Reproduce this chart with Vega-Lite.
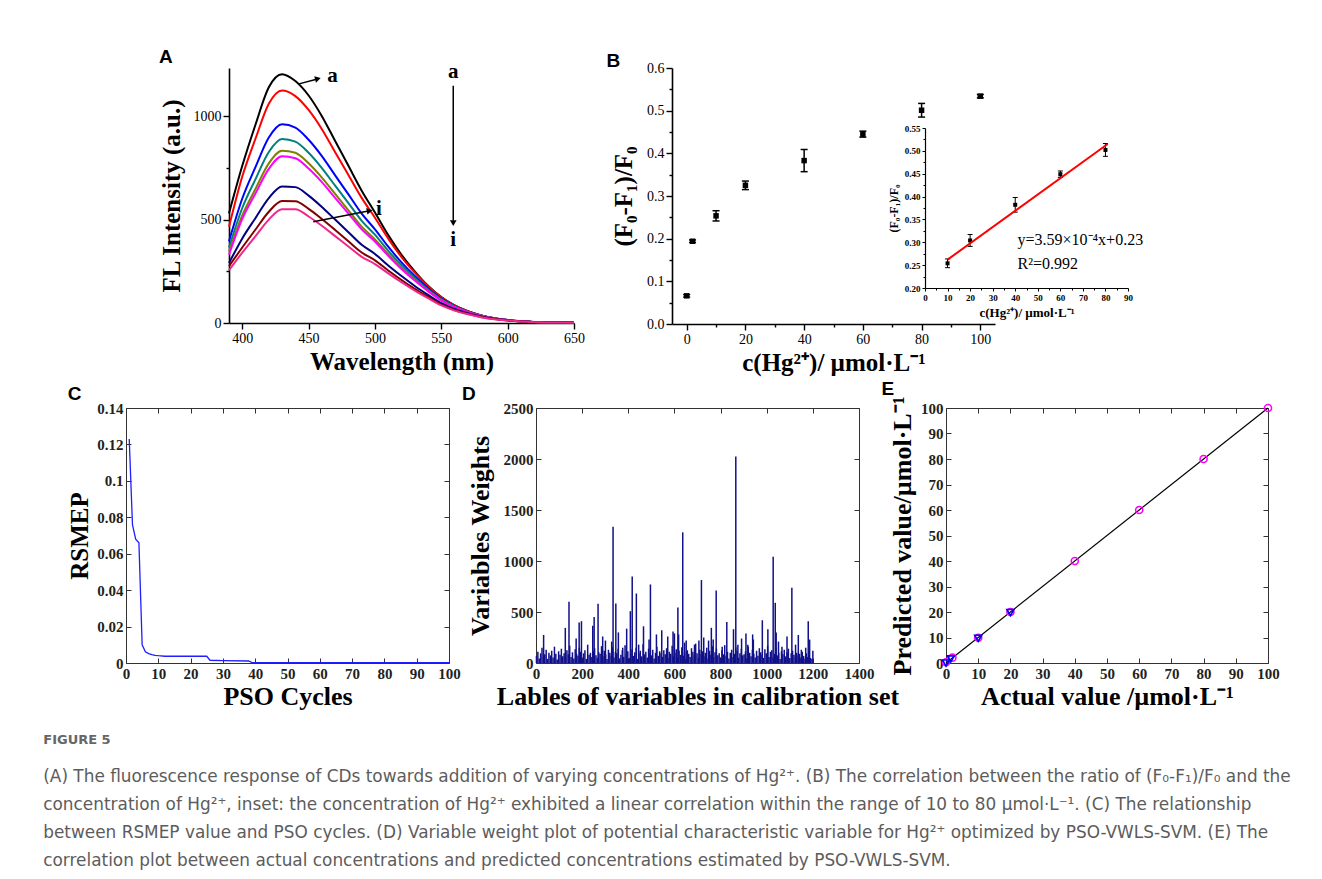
{
  "$schema": "https://vega.github.io/schema/vega-lite/v6.json",
  "padding": {"left": 43, "top": 47, "right": 5, "bottom": 5},
  "background": "white",
  "config": {
    "view": {"stroke": null},
    "axis": {"grid": false, "labelFlush": false, "labelOverlap": false, "labelFont": "Liberation Serif", "titleFont": "Liberation Serif", "domainColor": "#000", "tickColor": "#000", "labelColor": "#000", "titleColor": "#000", "titleFontWeight": "bold"},
    "title": {"font": "Liberation Sans", "fontSize": 19, "fontWeight": "bold", "anchor": "start", "frame": "bounds", "color": "#000"}
  },
  "title": {
    "text": "FIGURE 5",
    "subtitle": [
      "(A) The fluorescence response of CDs towards addition of varying concentrations of Hg²⁺. (B) The correlation between the ratio of (F₀-F₁)/F₀ and the",
      "concentration of Hg²⁺, inset: the concentration of Hg²⁺ exhibited a linear correlation within the range of 10 to 80 µmol·L⁻¹. (C) The relationship",
      "between RSMEP value and PSO cycles. (D) Variable weight plot of potential characteristic variable for Hg²⁺ optimized by PSO-VWLS-SVM. (E) The",
      "correlation plot between actual concentrations and predicted concentrations estimated by PSO-VWLS-SVM."
    ],
    "orient": "bottom", "anchor": "start", "frame": "bounds", "dx": -24, "offset": 24,
    "font": "DejaVu Sans", "fontSize": 13, "fontWeight": "bold", "color": "#666666",
    "subtitleFont": "DejaVu Sans", "subtitleFontSize": 16.9, "subtitleColor": "#5c5c5c", "subtitleLineHeight": 28, "subtitlePadding": 22
  },
  "spacing": 4,
  "align": "none",
  "vconcat": [
    {
      "spacing": 98,
      "align": "none",
      "bounds": "flush",
      "hconcat": [
        {"width": 5, "height": 10, "data": {"values": []}, "mark": "point"},
        {
          "width": 345, "height": 255,
          "title": {"text": "A", "offset": -6},
          "layer": [
            {
              "data": {"values": [
                {"w":390,"a":530,"b":465,"c":395,"d":365,"e":345,"f":330,"g":290,"h":275,"i":255},
                {"w":400,"a":760,"b":708,"c":602,"d":556,"e":520,"f":503,"g":409,"h":365,"i":340},
                {"w":410,"a":960,"b":892,"c":755,"d":696,"e":649,"f":627,"g":508,"h":452,"i":420},
                {"w":420,"a":1140,"b":1060,"c":897,"d":827,"e":772,"f":745,"g":604,"h":538,"i":500},
                {"w":430,"a":1203,"b":1124,"c":961,"d":890,"e":833,"f":806,"g":660,"h":590,"i":550},
                {"w":440,"a":1170,"b":1097,"c":945,"d":877,"e":823,"f":797,"g":657,"h":589,"i":550},
                {"w":450,"a":1100,"b":1030,"c":886,"d":823,"e":772,"f":747,"g":616,"h":552,"i":515},
                {"w":460,"a":1000,"b":937,"c":807,"d":749,"e":703,"f":681,"g":561,"h":503,"i":470},
                {"w":470,"a":880,"b":826,"c":714,"d":664,"e":624,"f":605,"g":500,"h":450,"i":420},
                {"w":480,"a":760,"b":716,"c":622,"d":580,"e":545,"f":529,"g":439,"h":395,"i":370},
                {"w":490,"a":640,"b":605,"c":529,"d":494,"e":466,"f":453,"g":378,"h":341,"i":320},
                {"w":500,"a":534,"b":509,"c":453,"d":427,"e":404,"f":394,"g":334,"h":303,"i":285},
                {"w":510,"a":425,"b":408,"c":369,"d":349,"e":333,"f":325,"g":278,"h":254,"i":240},
                {"w":520,"a":330,"b":319,"c":293,"d":279,"e":267,"f":261,"g":227,"h":208,"i":197},
                {"w":530,"a":250,"b":244,"c":227,"d":218,"e":209,"f":205,"g":179,"h":165,"i":157},
                {"w":540,"a":180,"b":178,"c":168,"d":162,"e":157,"f":154,"g":136,"h":126,"i":120},
                {"w":550,"a":125,"b":124,"c":118,"d":114,"e":110,"f":108,"g":96,"h":89,"i":85},
                {"w":560,"a":85,"b":85,"c":82,"d":80,"e":77,"f":76,"g":68,"h":63,"i":60},
                {"w":570,"a":57,"b":57,"c":55,"d":54,"e":53,"f":52,"g":47,"h":44,"i":42},
                {"w":580,"a":37,"b":37,"c":37,"d":36,"e":35,"f":34,"g":31,"h":29,"i":28},
                {"w":590,"a":23,"b":23,"c":23,"d":23,"e":22,"f":22,"g":20,"h":19,"i":18},
                {"w":600,"a":14,"b":14,"c":14,"d":14,"e":14,"f":14,"g":13,"h":12,"i":12},
                {"w":610,"a":8,"b":8,"c":8,"d":9,"e":9,"f":9,"g":8,"h":7,"i":7},
                {"w":620,"a":5,"b":5,"c":5,"d":5,"e":5,"f":5,"g":5,"h":5,"i":4},
                {"w":630,"a":3,"b":3,"c":3,"d":3,"e":3,"f":3,"g":3,"h":3,"i":3},
                {"w":640,"a":2,"b":2,"c":2,"d":2,"e":2,"f":2,"g":2,"h":2,"i":2},
                {"w":650,"a":1,"b":1,"c":1,"d":1,"e":1,"f":1,"g":1,"h":1,"i":1}
              ]},
              "transform": [{"fold": ["a","b","c","d","e","f","g","h","i"], "as": ["curve","fl"]}],
              "mark": {"type": "line", "interpolate": "monotone", "strokeWidth": 2},
              "encoding": {
                "x": {"field": "w", "type": "quantitative", "scale": {"domain": [390, 650], "nice": false, "zero": false},
                  "axis": {"title": "Wavelength (nm)", "values": [400,425,450,475,500,525,550,575,600,625,650], "format": "d",
                    "labelExpr": "datum.value % 50 === 0 ? datum.label : ''",
                    "tickSize": {"condition": {"test": "datum.value % 50 === 0", "value": 6}, "value": 3},
                    "labelFontSize": 14, "titleFontSize": 25, "domainWidth": 1.6, "tickWidth": 1.4, "labelPadding": 2, "titlePadding": 4}},
                "y": {"field": "fl", "type": "quantitative", "scale": {"domain": [0, 1233], "nice": false},
                  "axis": {"title": "FL Intensity (a.u.)", "values": [0,250,500,750,1000], "format": "d",
                    "labelExpr": "datum.value % 500 === 0 ? datum.label : ''",
                    "tickSize": {"condition": {"test": "datum.value % 500 === 0", "value": 6}, "value": 3},
                    "labelFontSize": 14, "titleFontSize": 25, "domainWidth": 1.6, "tickWidth": 1.4, "labelPadding": 2, "titlePadding": 9}},
                "color": {"field": "curve", "type": "nominal", "legend": null,
                  "scale": {"domain": ["a","b","c","d","e","f","g","h","i"], "range": ["#000000","#ff0000","#0000ff","#008080","#808000","#ff00ff","#000080","#800000","#f0288c"]}}
              }
            },
            {
              "data": {"values": [
                {"x": 442, "y": 1155, "x2": 456, "y2": 1179},
                {"x": 453.5, "y": 490, "x2": 494, "y2": 540},
                {"x": 559, "y": 1147, "x2": 559, "y2": 495}
              ]},
              "mark": {"type": "rule", "color": "#000", "strokeWidth": 1.5},
              "encoding": {
                "x": {"field": "x", "type": "quantitative"},
                "y": {"field": "y", "type": "quantitative"},
                "x2": {"field": "x2"},
                "y2": {"field": "y2"}
              }
            },
            {
              "data": {"values": [
                {"x": 457, "y": 1181, "s": "triangle-right", "ang": 345},
                {"x": 496, "y": 543, "s": "triangle-right", "ang": 349},
                {"x": 559, "y": 483, "s": "triangle-down", "ang": 0}
              ]},
              "mark": {"type": "point", "filled": true, "color": "#000", "opacity": 1, "size": 45},
              "encoding": {
                "x": {"field": "x", "type": "quantitative"},
                "y": {"field": "y", "type": "quantitative"},
                "shape": {"field": "s", "type": "nominal", "scale": null},
                "angle": {"field": "ang", "type": "quantitative", "scale": null}
              }
            },
            {
              "data": {"values": [
                {"x": 468, "y": 1195, "t": "a"},
                {"x": 503, "y": 552, "t": "i"},
                {"x": 559, "y": 1215, "t": "a"},
                {"x": 559, "y": 401, "t": "i"}
              ]},
              "mark": {"type": "text", "font": "Liberation Serif", "fontWeight": "bold", "fontSize": 21, "align": "center", "baseline": "middle", "color": "#000"},
              "encoding": {
                "x": {"field": "x", "type": "quantitative"},
                "y": {"field": "y", "type": "quantitative"},
                "text": {"field": "t"}
              }
            }
          ]
        },
        {
          "width": 323, "height": 256,
          "title": {"text": "B", "dx": -5, "offset": -10},
          "resolve": {"scale": {"x": "independent", "y": "independent"}, "axis": {"x": "independent", "y": "independent"}},
          "layer": [
            {
              "data": {"values": [
                {"c": 0, "r": 0.066, "lo": 0.063, "hi": 0.069},
                {"c": 2, "r": 0.194, "lo": 0.191, "hi": 0.197},
                {"c": 10, "r": 0.2535, "lo": 0.2415, "hi": 0.2655},
                {"c": 20, "r": 0.325, "lo": 0.315, "hi": 0.335},
                {"c": 40, "r": 0.383, "lo": 0.357, "hi": 0.409},
                {"c": 60, "r": 0.445, "lo": 0.438, "hi": 0.452},
                {"c": 80, "r": 0.501, "lo": 0.485, "hi": 0.517},
                {"c": 100, "r": 0.534, "lo": 0.530, "hi": 0.538}
              ]},
              "encoding": {
                "x": {"field": "c", "type": "quantitative", "scale": {"domain": [-5, 105], "nice": false, "zero": false},
                  "axis": {"title": "c(Hg²⁺)/ µmol·L⁻¹", "values": [0,10,20,30,40,50,60,70,80,90,100], "format": "d",
                    "labelExpr": "datum.value % 20 === 0 ? datum.label : ''",
                    "tickSize": {"condition": {"test": "datum.value % 20 === 0", "value": 6}, "value": 3},
                    "labelFontSize": 14, "titleFontSize": 25, "domainWidth": 1.6, "tickWidth": 1.4, "labelPadding": 2, "titlePadding": 4}}
              },
              "layer": [
                {
                  "mark": {"type": "rule", "color": "#000", "strokeWidth": 1.5},
                  "encoding": {
                    "y": {"field": "lo", "type": "quantitative", "scale": {"domain": [0, 0.6], "nice": false},
                      "axis": {"title": "(F₀-F₁)/F₀", "values": [0,0.05,0.1,0.15,0.2,0.25,0.3,0.35,0.4,0.45,0.5,0.55,0.6], "format": ".1f",
                        "labelExpr": "round(datum.value*100) % 10 === 0 ? datum.label : ''",
                        "tickSize": {"condition": {"test": "round(datum.value*100) % 10 === 0", "value": 6}, "value": 3},
                        "labelFontSize": 14, "titleFontSize": 25, "domainWidth": 1.6, "tickWidth": 1.4, "labelPadding": 2, "titlePadding": 10}},
                    "y2": {"field": "hi"}
                  }
                },
                {
                  "mark": {"type": "point", "shape": "stroke", "size": 49, "color": "#000", "strokeWidth": 1.5, "opacity": 1},
                  "encoding": {
                    "y": {"field": "lo", "type": "quantitative", "scale": {"domain": [0, 0.6], "nice": false},
                      "axis": {"title": "(F₀-F₁)/F₀", "values": [0,0.05,0.1,0.15,0.2,0.25,0.3,0.35,0.4,0.45,0.5,0.55,0.6], "format": ".1f",
                        "labelExpr": "round(datum.value*100) % 10 === 0 ? datum.label : ''",
                        "tickSize": {"condition": {"test": "round(datum.value*100) % 10 === 0", "value": 6}, "value": 3},
                        "labelFontSize": 14, "titleFontSize": 25, "domainWidth": 1.6, "tickWidth": 1.4, "labelPadding": 2, "titlePadding": 10}}
                  }
                },
                {
                  "mark": {"type": "point", "shape": "stroke", "size": 49, "color": "#000", "strokeWidth": 1.5, "opacity": 1},
                  "encoding": {
                    "y": {"field": "hi", "type": "quantitative", "scale": {"domain": [0, 0.6], "nice": false},
                      "axis": {"title": "(F₀-F₁)/F₀", "values": [0,0.05,0.1,0.15,0.2,0.25,0.3,0.35,0.4,0.45,0.5,0.55,0.6], "format": ".1f",
                        "labelExpr": "round(datum.value*100) % 10 === 0 ? datum.label : ''",
                        "tickSize": {"condition": {"test": "round(datum.value*100) % 10 === 0", "value": 6}, "value": 3},
                        "labelFontSize": 14, "titleFontSize": 25, "domainWidth": 1.6, "tickWidth": 1.4, "labelPadding": 2, "titlePadding": 10}}
                  }
                },
                {
                  "mark": {"type": "point", "shape": "square", "filled": true, "size": 30, "color": "#000", "opacity": 1},
                  "encoding": {
                    "y": {"field": "r", "type": "quantitative", "scale": {"domain": [0, 0.6], "nice": false},
                      "axis": {"title": "(F₀-F₁)/F₀", "values": [0,0.05,0.1,0.15,0.2,0.25,0.3,0.35,0.4,0.45,0.5,0.55,0.6], "format": ".1f",
                        "labelExpr": "round(datum.value*100) % 10 === 0 ? datum.label : ''",
                        "tickSize": {"condition": {"test": "round(datum.value*100) % 10 === 0", "value": 6}, "value": 3},
                        "labelFontSize": 14, "titleFontSize": 25, "domainWidth": 1.6, "tickWidth": 1.4, "labelPadding": 2, "titlePadding": 10}}
                  }
                }
              ]
            },
            {
              "data": {"values": [
                {"c": 10, "r": 0.254, "lo": 0.2445, "hi": 0.2635},
                {"c": 20, "r": 0.304, "lo": 0.291, "hi": 0.317},
                {"c": 40, "r": 0.382, "lo": 0.366, "hi": 0.398},
                {"c": 60, "r": 0.449, "lo": 0.442, "hi": 0.456},
                {"c": 80, "r": 0.502, "lo": 0.488, "hi": 0.516}
              ]},
              "encoding": {
                "x": {"field": "c", "type": "quantitative", "scale": {"domain": [0, 90], "range": [253, 456], "nice": false, "zero": false},
                  "axis": {"orient": "bottom", "offset": -36, "title": "c(Hg²⁺)/ µmol·L⁻¹", "values": [0,5,10,15,20,25,30,35,40,45,50,55,60,65,70,75,80,85,90], "format": "d",
                    "labelExpr": "datum.value % 10 === 0 ? datum.label : ''",
                    "tickSize": {"condition": {"test": "datum.value % 10 === 0", "value": 3}, "value": 2},
                    "labelFontSize": 9, "labelFontWeight": "bold", "titleFontSize": 13, "domainWidth": 1.2, "tickWidth": 1, "labelPadding": 2, "titlePadding": 4}}
              },
              "layer": [
                {
                  "mark": {"type": "rule", "color": "#000", "strokeWidth": 1},
                  "encoding": {
                    "y": {"field": "lo", "type": "quantitative", "scale": {"domain": [0.2, 0.55], "range": [220, 60], "nice": false, "zero": false},
                      "axis": {"orient": "left", "offset": -253, "title": "(F₀-F₁)/F₀", "values": [0.2,0.225,0.25,0.275,0.3,0.325,0.35,0.375,0.4,0.425,0.45,0.475,0.5,0.525,0.55], "format": ".2f",
                        "labelExpr": "round(datum.value*1000) % 50 === 0 ? datum.label : ''",
                        "tickSize": {"condition": {"test": "round(datum.value*1000) % 50 === 0", "value": 3}, "value": 2},
                        "labelFontSize": 9, "labelFontWeight": "bold", "titleFontSize": 12, "domainWidth": 1.2, "tickWidth": 1, "labelPadding": 2, "titlePadding": 4}},
                    "y2": {"field": "hi"}
                  }
                },
                {
                  "mark": {"type": "point", "shape": "stroke", "size": 25, "color": "#000", "strokeWidth": 1, "opacity": 1},
                  "encoding": {
                    "y": {"field": "lo", "type": "quantitative", "scale": {"domain": [0.2, 0.55], "range": [220, 60], "nice": false, "zero": false},
                      "axis": {"orient": "left", "offset": -253, "title": "(F₀-F₁)/F₀", "values": [0.2,0.225,0.25,0.275,0.3,0.325,0.35,0.375,0.4,0.425,0.45,0.475,0.5,0.525,0.55], "format": ".2f",
                        "labelExpr": "round(datum.value*1000) % 50 === 0 ? datum.label : ''",
                        "tickSize": {"condition": {"test": "round(datum.value*1000) % 50 === 0", "value": 3}, "value": 2},
                        "labelFontSize": 9, "labelFontWeight": "bold", "titleFontSize": 12, "domainWidth": 1.2, "tickWidth": 1, "labelPadding": 2, "titlePadding": 4}}
                  }
                },
                {
                  "mark": {"type": "point", "shape": "stroke", "size": 25, "color": "#000", "strokeWidth": 1, "opacity": 1},
                  "encoding": {
                    "y": {"field": "hi", "type": "quantitative", "scale": {"domain": [0.2, 0.55], "range": [220, 60], "nice": false, "zero": false},
                      "axis": {"orient": "left", "offset": -253, "title": "(F₀-F₁)/F₀", "values": [0.2,0.225,0.25,0.275,0.3,0.325,0.35,0.375,0.4,0.425,0.45,0.475,0.5,0.525,0.55], "format": ".2f",
                        "labelExpr": "round(datum.value*1000) % 50 === 0 ? datum.label : ''",
                        "tickSize": {"condition": {"test": "round(datum.value*1000) % 50 === 0", "value": 3}, "value": 2},
                        "labelFontSize": 9, "labelFontWeight": "bold", "titleFontSize": 12, "domainWidth": 1.2, "tickWidth": 1, "labelPadding": 2, "titlePadding": 4}}
                  }
                },
                {
                  "mark": {"type": "point", "shape": "square", "filled": true, "size": 16, "color": "#000", "opacity": 1},
                  "encoding": {
                    "y": {"field": "r", "type": "quantitative", "scale": {"domain": [0.2, 0.55], "range": [220, 60], "nice": false, "zero": false},
                      "axis": {"orient": "left", "offset": -253, "title": "(F₀-F₁)/F₀", "values": [0.2,0.225,0.25,0.275,0.3,0.325,0.35,0.375,0.4,0.425,0.45,0.475,0.5,0.525,0.55], "format": ".2f",
                        "labelExpr": "round(datum.value*1000) % 50 === 0 ? datum.label : ''",
                        "tickSize": {"condition": {"test": "round(datum.value*1000) % 50 === 0", "value": 3}, "value": 2},
                        "labelFontSize": 9, "labelFontWeight": "bold", "titleFontSize": 12, "domainWidth": 1.2, "tickWidth": 1, "labelPadding": 2, "titlePadding": 4}}
                  }
                },
                {
                  "data": {"values": [{"c": 10, "r": 0.262}, {"c": 81, "r": 0.515}]},
                  "mark": {"type": "line", "color": "#ff0000", "strokeWidth": 2},
                  "encoding": {
                    "y": {"field": "r", "type": "quantitative", "scale": {"domain": [0.2, 0.55], "range": [220, 60], "nice": false, "zero": false},
                      "axis": {"orient": "left", "offset": -253, "title": "(F₀-F₁)/F₀", "values": [0.2,0.225,0.25,0.275,0.3,0.325,0.35,0.375,0.4,0.425,0.45,0.475,0.5,0.525,0.55], "format": ".2f",
                        "labelExpr": "round(datum.value*1000) % 50 === 0 ? datum.label : ''",
                        "tickSize": {"condition": {"test": "round(datum.value*1000) % 50 === 0", "value": 3}, "value": 2},
                        "labelFontSize": 9, "labelFontWeight": "bold", "titleFontSize": 12, "domainWidth": 1.2, "tickWidth": 1, "labelPadding": 2, "titlePadding": 4}}
                  }
                },
                {
                  "data": {"values": [{"c": 41, "r": 0.305, "t": "y=3.59×10⁻⁴x+0.23"}, {"c": 41, "r": 0.2526, "t": "R²=0.992"}]},
                  "mark": {"type": "text", "font": "Liberation Serif", "fontSize": 16, "align": "left", "baseline": "middle", "color": "#000"},
                  "encoding": {
                    "y": {"field": "r", "type": "quantitative", "scale": {"domain": [0.2, 0.55], "range": [220, 60], "nice": false, "zero": false},
                      "axis": {"orient": "left", "offset": -253, "title": "(F₀-F₁)/F₀", "values": [0.2,0.225,0.25,0.275,0.3,0.325,0.35,0.375,0.4,0.425,0.45,0.475,0.5,0.525,0.55], "format": ".2f",
                        "labelExpr": "round(datum.value*1000) % 50 === 0 ? datum.label : ''",
                        "tickSize": {"condition": {"test": "round(datum.value*1000) % 50 === 0", "value": 3}, "value": 2},
                        "labelFontSize": 9, "labelFontWeight": "bold", "titleFontSize": 12, "domainWidth": 1.2, "tickWidth": 1, "labelPadding": 2, "titlePadding": 4}},
                    "text": {"field": "t"}
                  }
                }
              ]
            }
          ]
        }
      ]
    },
    {
      "spacing": 87,
      "align": "none",
      "bounds": "flush",
      "hconcat": [
        {
          "width": 323, "height": 255,
          "view": {"stroke": "#333", "strokeWidth": 1},
          "title": {"text": "C", "offset": -3},
          "data": {"values": [
            {"k":1,"r":0.123},{"k":2,"r":0.076},{"k":3,"r":0.068},{"k":4,"r":0.066},{"k":5,"r":0.010},
            {"k":6,"r":0.0062},{"k":7,"r":0.0052},{"k":8,"r":0.0046},{"k":9,"r":0.0042},{"k":10,"r":0.0040},
            {"k":12,"r":0.0037},{"k":25,"r":0.0037},{"k":26,"r":0.0015},{"k":30,"r":0.0013},{"k":38,"r":0.0011},
            {"k":39,"r":0.0002},{"k":100,"r":0.0002}
          ]},
          "resolve": {"axis": {"x": "independent", "y": "independent"}},
          "layer": [
            {
              "mark": {"type": "line", "color": "#1f1fff", "strokeWidth": 1.3},
              "encoding": {
                "x": {"field": "k", "type": "quantitative", "scale": {"domain": [0, 100], "nice": false},
                  "axis": {"title": "PSO Cycles", "values": [0,10,20,30,40,50,60,70,80,90,100], "format": "d", "domain": false,
                    "tickSize": -5, "labelPadding": 8, "labelFontSize": 15, "labelFontWeight": "bold", "labelColor": "#231f20", "tickColor": "#333",
                    "titleFontSize": 26, "titlePadding": 2}},
                "y": {"field": "r", "type": "quantitative", "scale": {"domain": [0, 0.14], "nice": false},
                  "axis": {"title": "RSMEP", "values": [0,0.02,0.04,0.06,0.08,0.1,0.12,0.14], "format": "~g", "domain": false,
                    "tickSize": -5, "labelPadding": 8, "labelFontSize": 15, "labelFontWeight": "bold", "labelColor": "#231f20", "tickColor": "#333",
                    "titleFontSize": 25, "titlePadding": 4}}
              }
            },
            {
              "mark": {"type": "line", "opacity": 0},
              "encoding": {
                "x": {"field": "k", "type": "quantitative", "scale": {"domain": [0, 100], "nice": false},
                  "axis": {"orient": "top", "title": null, "labels": false, "values": [0,10,20,30,40,50,60,70,80,90,100], "domain": false, "tickSize": -5, "tickColor": "#333"}},
                "y": {"field": "r", "type": "quantitative", "scale": {"domain": [0, 0.14], "nice": false},
                  "axis": {"orient": "right", "title": null, "labels": false, "values": [0,0.02,0.04,0.06,0.08,0.1,0.12,0.14], "domain": false, "tickSize": -5, "tickColor": "#333"}}
              }
            }
          ]
        },
        {
          "width": 323, "height": 255,
          "view": {"stroke": "#333", "strokeWidth": 1},
          "title": {"text": "D", "dx": -5, "offset": -3},
          "resolve": {"axis": {"x": "independent", "y": "independent"}},
          "layer": [
            {
              "data": {"values": [
                {"v":2,"w":70},{"v":8,"w":110},{"v":14,"w":45},{"v":20,"w":95},{"v":26,"w":150},{"v":32,"w":60},{"v":38,"w":85},{"v":44,"w":130},{"v":50,"w":40},{"v":56,"w":100},
                {"v":62,"w":75},{"v":68,"w":120},{"v":74,"w":55},{"v":80,"w":160},{"v":86,"w":90},{"v":92,"w":35},{"v":98,"w":115},{"v":104,"w":80},{"v":110,"w":140},{"v":116,"w":65},
                {"v":122,"w":95},{"v":128,"w":50},{"v":134,"w":125},{"v":140,"w":85},{"v":146,"w":170},{"v":152,"w":60},{"v":158,"w":105},{"v":164,"w":45},{"v":170,"w":135},{"v":176,"w":90},
                {"v":182,"w":70},{"v":188,"w":150},{"v":194,"w":110},{"v":200,"w":55},{"v":206,"w":95},{"v":212,"w":125},{"v":218,"w":40},{"v":224,"w":180},{"v":230,"w":80},{"v":236,"w":100},
                {"v":242,"w":60},{"v":248,"w":115},{"v":254,"w":145},{"v":260,"w":75},{"v":266,"w":50},{"v":272,"w":105},{"v":278,"w":90},{"v":284,"w":165},{"v":290,"w":65},{"v":296,"w":120},
                {"v":302,"w":85},{"v":308,"w":40},{"v":314,"w":130},{"v":320,"w":100},{"v":326,"w":70},{"v":332,"w":155},{"v":338,"w":55},{"v":344,"w":110},{"v":350,"w":95},{"v":356,"w":140},
                {"v":362,"w":45},{"v":368,"w":80},{"v":374,"w":125},{"v":380,"w":60},{"v":386,"w":175},{"v":392,"w":90},{"v":398,"w":115},{"v":404,"w":50},{"v":410,"w":100},{"v":416,"w":135},
                {"v":422,"w":70},{"v":428,"w":105},{"v":434,"w":150},{"v":440,"w":40},{"v":446,"w":95},{"v":452,"w":120},{"v":458,"w":65},{"v":464,"w":185},{"v":470,"w":85},{"v":476,"w":110},
                {"v":482,"w":55},{"v":488,"w":140},{"v":494,"w":90},{"v":500,"w":75},{"v":506,"w":130},{"v":512,"w":45},{"v":518,"w":100},{"v":524,"w":160},{"v":530,"w":70},{"v":536,"w":115},
                {"v":542,"w":95},{"v":548,"w":60},{"v":554,"w":125},{"v":560,"w":85},{"v":566,"w":145},{"v":572,"w":50},{"v":578,"w":110},{"v":584,"w":90},{"v":590,"w":170},{"v":596,"w":65},
                {"v":602,"w":100},{"v":608,"w":135},{"v":614,"w":55},{"v":620,"w":120},{"v":626,"w":80},{"v":632,"w":155},{"v":638,"w":70},{"v":644,"w":105},{"v":650,"w":40},{"v":656,"w":125},
                {"v":662,"w":90},{"v":668,"w":60},{"v":674,"w":145},{"v":680,"w":110},{"v":686,"w":75},{"v":692,"w":190},{"v":698,"w":95},{"v":704,"w":50},{"v":710,"w":130},{"v":716,"w":85},
                {"v":722,"w":115},{"v":728,"w":65},{"v":734,"w":100},{"v":740,"w":150},{"v":746,"w":45},{"v":752,"w":120},{"v":758,"w":80},{"v":764,"w":165},{"v":770,"w":60},{"v":776,"w":105},
                {"v":782,"w":140},{"v":788,"w":75},{"v":794,"w":95},{"v":800,"w":55},{"v":806,"w":125},{"v":812,"w":85},{"v":818,"w":175},{"v":824,"w":70},{"v":830,"w":110},{"v":836,"w":45},
                {"v":842,"w":100},{"v":848,"w":130},{"v":854,"w":60},{"v":860,"w":90},{"v":866,"w":155},{"v":872,"w":120},{"v":878,"w":50},{"v":884,"w":95},{"v":890,"w":140},{"v":896,"w":75},
                {"v":902,"w":85},{"v":908,"w":115},{"v":914,"w":45},{"v":920,"w":160},{"v":926,"w":100},{"v":932,"w":65},{"v":938,"w":130},{"v":944,"w":90},{"v":950,"w":55},{"v":956,"w":120},
                {"v":962,"w":70},{"v":968,"w":145},{"v":974,"w":105},{"v":980,"w":80},{"v":986,"w":50},{"v":992,"w":135},{"v":998,"w":95},{"v":1004,"w":170},{"v":1010,"w":60},{"v":1016,"w":110},
                {"v":1022,"w":125},{"v":1028,"w":55},{"v":1034,"w":90},{"v":1040,"w":150},{"v":1046,"w":75},{"v":1052,"w":100},{"v":1058,"w":40},{"v":1064,"w":115},{"v":1070,"w":85},{"v":1076,"w":130},
                {"v":1082,"w":65},{"v":1088,"w":105},{"v":1094,"w":140},{"v":1100,"w":50},{"v":1106,"w":95},{"v":1112,"w":120},{"v":1118,"w":80},{"v":1124,"w":60},{"v":1130,"w":100},{"v":1136,"w":75},
                {"v":1142,"w":90},{"v":1148,"w":55},{"v":1154,"w":110},{"v":1160,"w":70},{"v":1166,"w":45},{"v":1172,"w":95},{"v":1178,"w":60},{"v":1184,"w":85},{"v":1190,"w":50},{"v":1196,"w":40},
                {"v":33,"w":275},{"v":127,"w":344},{"v":143,"w":600},{"v":174,"w":240},{"v":187,"w":396},{"v":197,"w":410},{"v":246,"w":364},{"v":252,"w":452},{"v":269,"w":580},{"v":289,"w":260},
                {"v":301,"w":220},{"v":328,"w":210},{"v":334,"w":1337},{"v":346,"w":583},{"v":357,"w":300},{"v":376,"w":150},{"v":393,"w":337},{"v":409,"w":508},{"v":417,"w":849},{"v":435,"w":681},
                {"v":445,"w":180},{"v":466,"w":360},{"v":490,"w":230},{"v":496,"w":770},{"v":522,"w":280},{"v":545,"w":321},{"v":571,"w":260},{"v":594,"w":310},{"v":600,"w":290},{"v":615,"w":544},
                {"v":618,"w":280},{"v":636,"w":1281},{"v":644,"w":200},{"v":651,"w":220},{"v":687,"w":180},{"v":706,"w":220},{"v":717,"w":813},{"v":727,"w":250},{"v":748,"w":220},{"v":760,"w":345},
                {"v":768,"w":230},{"v":781,"w":711},{"v":807,"w":160},{"v":827,"w":403},{"v":856,"w":331},{"v":866,"w":2025},{"v":875,"w":180},{"v":891,"w":240},{"v":910,"w":290},{"v":918,"w":180},
                {"v":939,"w":280},{"v":942,"w":230},{"v":981,"w":419},{"v":1005,"w":331},{"v":1028,"w":1042},{"v":1037,"w":590},{"v":1041,"w":300},{"v":1051,"w":210},{"v":1066,"w":160},{"v":1088,"w":260},
                {"v":1109,"w":737},{"v":1125,"w":180},{"v":1137,"w":275},{"v":1150,"w":130},{"v":1169,"w":150},{"v":1180,"w":410},{"v":1186,"w":230},{"v":1200,"w":120}
              ]},
              "mark": {"type": "rule", "color": "#10108a", "strokeWidth": 1.5},
              "encoding": {
                "x": {"field": "v", "type": "quantitative", "scale": {"domain": [0, 1400], "nice": false},
                  "axis": {"title": "Lables of variables in calibration set", "values": [0,200,400,600,800,1000,1200,1400], "format": "d", "domain": false,
                    "tickSize": -5, "labelPadding": 8, "labelFontSize": 15, "labelFontWeight": "bold", "labelColor": "#231f20", "tickColor": "#333",
                    "titleFontSize": 26, "titlePadding": 2}},
                "y": {"field": "w", "type": "quantitative", "scale": {"domain": [0, 2500], "nice": false},
                  "axis": {"title": "Variables Weights", "values": [0,500,1000,1500,2000,2500], "format": "d", "domain": false,
                    "tickSize": -5, "labelPadding": 8, "labelFontSize": 15, "labelFontWeight": "bold", "labelColor": "#231f20", "tickColor": "#333",
                    "titleFontSize": 26, "titlePadding": 10}},
                "y2": {"datum": 0}
              }
            },
            {
              "data": {"values": [{"v": 0, "w": 0}]},
              "mark": {"type": "point", "opacity": 0},
              "encoding": {
                "x": {"field": "v", "type": "quantitative", "scale": {"domain": [0, 1400], "nice": false},
                  "axis": {"orient": "top", "title": null, "labels": false, "values": [0,200,400,600,800,1000,1200,1400], "domain": false, "tickSize": -5, "tickColor": "#333"}},
                "y": {"field": "w", "type": "quantitative", "scale": {"domain": [0, 2500], "nice": false},
                  "axis": {"orient": "right", "title": null, "labels": false, "values": [0,500,1000,1500,2000,2500], "domain": false, "tickSize": -5, "tickColor": "#333"}}
              }
            }
          ]
        },
        {
          "width": 322, "height": 255,
          "view": {"stroke": "#333", "strokeWidth": 1},
          "title": {"text": "E", "dx": -8, "offset": -3},
          "resolve": {"axis": {"x": "independent", "y": "independent"}},
          "layer": [
            {
              "encoding": {
                "x": {"field": "a", "type": "quantitative", "scale": {"domain": [0, 100], "nice": false},
                  "axis": {"title": "Actual value /µmol·L⁻¹", "values": [0,10,20,30,40,50,60,70,80,90,100], "format": "d", "domain": false,
                    "tickSize": -5, "labelPadding": 8, "labelFontSize": 15, "labelFontWeight": "bold", "labelColor": "#231f20", "tickColor": "#333",
                    "titleFontSize": 26, "titlePadding": 2}},
                "y": {"field": "p", "type": "quantitative", "scale": {"domain": [0, 100], "nice": false},
                  "axis": {"title": "Predicted value/µmol·L⁻¹", "values": [0,10,20,30,40,50,60,70,80,90,100], "format": "d", "domain": false,
                    "tickSize": -5, "labelPadding": 8, "labelFontSize": 15, "labelFontWeight": "bold", "labelColor": "#231f20", "tickColor": "#333",
                    "titleFontSize": 26, "titlePadding": 5}}
              },
              "layer": [
                {
                  "data": {"values": [{"a": 0, "p": 0}, {"a": 100, "p": 100}]},
                  "mark": {"type": "line", "color": "#000", "strokeWidth": 1.2}
                },
                {
                  "data": {"values": [
                    {"a": 0, "p": 0.3}, {"a": 2, "p": 2.1}, {"a": 10, "p": 9.9}, {"a": 20, "p": 20},
                    {"a": 40, "p": 40}, {"a": 60, "p": 60}, {"a": 80, "p": 80}, {"a": 100, "p": 100}
                  ]},
                  "mark": {"type": "point", "shape": "circle", "filled": false, "color": "#ff00ff", "strokeWidth": 1.6, "size": 50, "opacity": 1}
                },
                {
                  "data": {"values": [
                    {"a": 0, "p": 0}, {"a": 1.5, "p": 1.6}, {"a": 10, "p": 9.7}, {"a": 20, "p": 19.8}
                  ]},
                  "mark": {"type": "point", "shape": "triangle-down", "filled": false, "color": "#0000ff", "strokeWidth": 1.6, "size": 50, "opacity": 1}
                }
              ]
            },
            {
              "data": {"values": [{"a": 0, "p": 0}]},
              "mark": {"type": "point", "opacity": 0},
              "encoding": {
                "x": {"field": "a", "type": "quantitative", "scale": {"domain": [0, 100], "nice": false},
                  "axis": {"orient": "top", "title": null, "labels": false, "values": [0,10,20,30,40,50,60,70,80,90,100], "domain": false, "tickSize": -5, "tickColor": "#333"}},
                "y": {"field": "p", "type": "quantitative", "scale": {"domain": [0, 100], "nice": false},
                  "axis": {"orient": "right", "title": null, "labels": false, "values": [0,10,20,30,40,50,60,70,80,90,100], "domain": false, "tickSize": -5, "tickColor": "#333"}}
              }
            }
          ]
        }
      ]
    }
  ]
}
